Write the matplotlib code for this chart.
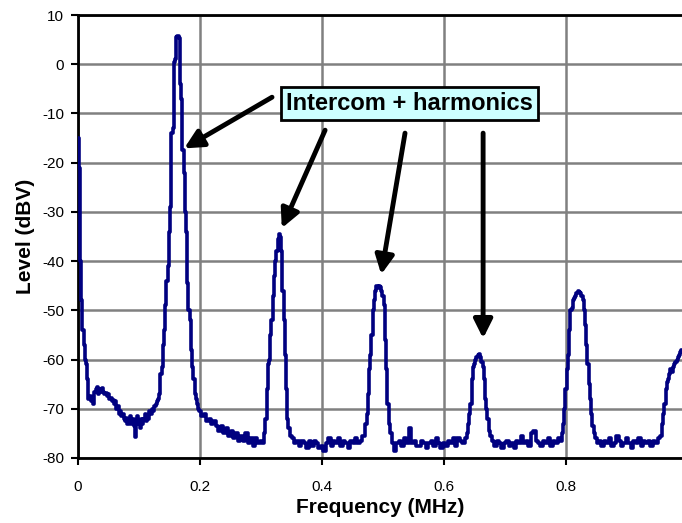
import numpy as np
import matplotlib.pyplot as plt

freq_mhz = [
    0.000, 0.002, 0.004, 0.006, 0.008, 0.010, 0.012, 0.014,
    0.016, 0.018, 0.020, 0.022, 0.024, 0.026, 0.028, 0.030,
    0.032, 0.034, 0.036, 0.038, 0.040, 0.042, 0.044, 0.046,
    0.048, 0.050, 0.052, 0.054, 0.056, 0.058, 0.060, 0.062,
    0.064, 0.066, 0.068, 0.070, 0.072, 0.074, 0.076, 0.078,
    0.080, 0.082, 0.084, 0.086, 0.088, 0.090, 0.092, 0.094,
    0.096, 0.098, 0.100, 0.102, 0.104, 0.106, 0.108, 0.110,
    0.112, 0.114, 0.116, 0.118, 0.120, 0.122, 0.124, 0.126,
    0.128, 0.130, 0.132, 0.134, 0.136, 0.138, 0.140, 0.142,
    0.144, 0.146, 0.148, 0.150, 0.152, 0.154, 0.156, 0.158,
    0.160, 0.162, 0.164, 0.166, 0.168, 0.170, 0.172, 0.174,
    0.176, 0.178, 0.180, 0.182, 0.184, 0.186, 0.188, 0.190,
    0.192, 0.194, 0.196, 0.198, 0.200, 0.204, 0.208, 0.212,
    0.216, 0.220, 0.224, 0.228, 0.232, 0.236, 0.240, 0.244,
    0.248, 0.252, 0.256, 0.260, 0.264, 0.268, 0.272, 0.276,
    0.280, 0.284, 0.288, 0.292, 0.296, 0.300, 0.304, 0.306,
    0.308, 0.310, 0.312, 0.314, 0.316, 0.318, 0.320, 0.322,
    0.324, 0.326, 0.328, 0.330, 0.332, 0.334, 0.336, 0.338,
    0.340, 0.342, 0.344, 0.346, 0.348, 0.352, 0.356, 0.360,
    0.364, 0.368, 0.372, 0.376, 0.380, 0.384, 0.388, 0.392,
    0.396, 0.400, 0.404, 0.408, 0.412, 0.416, 0.420, 0.424,
    0.428, 0.432, 0.436, 0.440, 0.444, 0.448, 0.452, 0.456,
    0.460, 0.464, 0.468, 0.472, 0.474, 0.476, 0.478, 0.480,
    0.482, 0.484, 0.486, 0.488, 0.490, 0.492, 0.494, 0.496,
    0.498, 0.500, 0.502, 0.504, 0.506, 0.508, 0.510, 0.512,
    0.516, 0.520, 0.524, 0.528, 0.532, 0.536, 0.540, 0.544,
    0.548, 0.552, 0.556, 0.560, 0.564, 0.568, 0.572, 0.576,
    0.580, 0.584, 0.588, 0.592, 0.596, 0.600, 0.604, 0.608,
    0.612, 0.616, 0.620, 0.624, 0.628, 0.632, 0.636, 0.638,
    0.640, 0.642, 0.644, 0.646, 0.648, 0.650, 0.652, 0.654,
    0.656, 0.658, 0.660, 0.662, 0.664, 0.666, 0.668, 0.670,
    0.672, 0.674, 0.676, 0.680, 0.684, 0.688, 0.692, 0.696,
    0.700, 0.704, 0.708, 0.712, 0.716, 0.720, 0.724, 0.728,
    0.732, 0.736, 0.740, 0.744, 0.748, 0.752, 0.756, 0.760,
    0.764, 0.768, 0.772, 0.776, 0.780, 0.784, 0.788, 0.792,
    0.794, 0.796, 0.798, 0.800, 0.802, 0.804, 0.806, 0.808,
    0.810, 0.812, 0.814, 0.816, 0.818, 0.820, 0.822, 0.824,
    0.826, 0.828, 0.830, 0.832, 0.834, 0.836, 0.838, 0.840,
    0.842, 0.844, 0.846, 0.848, 0.852, 0.856, 0.860, 0.864,
    0.868, 0.872, 0.876, 0.880, 0.884, 0.888, 0.892, 0.896,
    0.900, 0.904, 0.908, 0.912, 0.916, 0.920, 0.924, 0.928,
    0.932, 0.936, 0.940, 0.944, 0.948, 0.952, 0.956, 0.958,
    0.960, 0.962, 0.964, 0.966, 0.968, 0.970, 0.972, 0.974,
    0.976, 0.978, 0.980, 0.982, 0.984, 0.986, 0.988, 0.990,
]

level_dbv = [
    -15, -21, -40, -48, -54, -57, -60, -61,
    -64, -68, -67.5, -68.5, -68, -69, -66.5, -66,
    -65.5, -67, -66, -66.5, -65.8, -66.5, -67, -66.8,
    -67.5, -67, -68, -67.8, -68.5, -68.2, -69, -68.5,
    -70, -69.5, -71, -70.5, -71.5, -71, -72, -72.5,
    -71.8, -73, -72.2, -71.5, -73, -72, -73.5, -75.8,
    -72.5, -71.5, -73, -74, -72, -73, -72, -71,
    -72.5, -71.5, -72, -70.5, -71, -70, -70.5, -69.5,
    -69, -68.5, -68, -67, -63, -61.5, -57, -54,
    -49, -44, -41, -34, -29, -14, -13, 0.5,
    1, 5.5, 5.8, 5.3, -4, -7, -17.5, -22,
    -30, -34, -44.5, -50, -52, -58, -61.5, -64,
    -67, -68, -69, -70, -70.5, -71.5, -71, -72.5,
    -72, -73, -72.5, -73.5, -74.5, -73.5, -75, -74,
    -75.5, -74.5, -76, -75, -76.5, -75.5, -76.5, -75,
    -77, -76, -77.5, -76, -77, -76.5, -77, -75,
    -72, -66, -61, -60, -55, -52, -47, -43,
    -40, -38, -35.5, -34.5, -35, -38, -46, -52,
    -59, -66, -72, -74, -75.5, -76, -77, -76.5,
    -77.5, -76.5, -77, -78, -76.5, -77.5, -76.5, -77,
    -78, -77.5, -78.5, -77, -76, -77.5, -76.5, -77,
    -76, -77.5, -76.5, -77, -78, -76.5, -77, -76,
    -77, -76.5, -75.5, -73, -71, -67, -62, -59,
    -55, -50, -48, -46, -45, -45.5, -45, -45.2,
    -46, -47, -49, -56, -62, -69, -73, -75,
    -77, -78.5, -77, -76.5, -77.5, -76, -77, -74,
    -77, -76.5, -77.5, -77.5, -76.5, -77, -78, -77,
    -76.5, -77.5, -76, -77, -78, -77, -77.5, -76.5,
    -77, -76, -77.5, -76, -76.5, -77, -76, -75,
    -73, -71, -69, -64, -61.5, -61, -60, -59.5,
    -59, -58.8, -59.5, -60.5, -61.5, -64, -68, -70,
    -72, -74.5, -75.5, -76.5, -77.5, -76.5, -77, -78,
    -77, -76.5, -77.5, -77, -78, -76.5, -77, -75.5,
    -77, -76.5, -77.5, -75, -74.5, -76.5, -77, -77.5,
    -76.5, -77, -76, -77.5, -76.5, -77, -76, -76.5,
    -75, -73, -70, -66, -62, -59, -54, -50,
    -49.5, -48, -47.5, -47, -46.5, -46, -46.2, -46.5,
    -47, -48, -50, -53, -57, -61, -65, -68,
    -71, -73.5, -75, -76, -77, -76.5, -77.5, -76.5,
    -77, -76, -77.5, -77, -75.5, -76.5, -77.5, -77,
    -76, -77, -78, -76.5, -77, -76, -77.5, -76.5,
    -77, -76.5, -77.5, -76.5, -77, -76, -75.5, -73,
    -71, -69, -66, -64.5, -64, -63, -62, -62.5,
    -61.5, -61, -60.5, -60, -59.5, -59, -58.5, -58,
]

label_text = "Intercom + harmonics"
# arrow tips (MHz, dBV) and tails just under the label box
arrow_tips = [(0.174, -17.1), (0.334, -33.3), (0.497, -42.7), (0.664, -55.7)]
arrow_tails = [(0.318, -6.7), (0.405, -13.4), (0.536, -14.0), (0.664, -14.0)]

x_ticks = [0, 0.2, 0.4, 0.6, 0.8]
x_tick_labels = ["0", "0.2", "0.4", "0.6", "0.8"]
y_ticks = np.arange(-80, 11, 10)

plt.rcParams['font.family'] = ['Liberation Sans', 'DejaVu Sans']
plt.rcParams['axes.unicode_minus'] = False

fig = plt.figure(figsize=(6.82, 5.23), dpi=100)
ax = fig.add_axes([0.1144, 0.1243, 0.8856, 0.847])

ax.plot(freq_mhz, level_dbv, color='#000080', lw=2.6, drawstyle='steps-mid', zorder=3)

ax.set_xlim(0, 0.99)
ax.set_ylim(-80, 10)
ax.set_xticks(x_ticks)
ax.set_xticklabels(x_tick_labels)
ax.set_yticks(y_ticks)
ax.grid(True, color='#808080', lw=1.8, zorder=0)
ax.set_axisbelow(True)

for side in ['left', 'bottom', 'top']:
    ax.spines[side].set_linewidth(2)
    ax.spines[side].set_color('black')
ax.spines['right'].set_visible(False)
ax.tick_params(axis='both', direction='out', length=5, width=1.5, labelsize=11, colors='black')
ax.tick_params(axis='x', pad=11)
ax.tick_params(axis='y', pad=5)

ax.set_xlabel("Frequency (MHz)", fontsize=15, fontweight='bold', labelpad=3)
ax.set_ylabel("Level (dBV)", fontsize=15, fontweight='bold', labelpad=5)

for tip, tail in zip(arrow_tips, arrow_tails):
    ax.annotate("", xy=tip, xytext=tail,
                arrowprops=dict(arrowstyle='-|>', lw=3.5, color='black',
                                mutation_scale=28, shrinkA=0, shrinkB=0),
                zorder=4)

ax.text(0.5434, -8.0, label_text, fontsize=17, fontweight='bold', ha='center', va='center',
        bbox=dict(boxstyle='square,pad=0.2', facecolor='#CCFFFF', edgecolor='black', lw=2),
        zorder=5)

fig.savefig('out.png', dpi=100)
